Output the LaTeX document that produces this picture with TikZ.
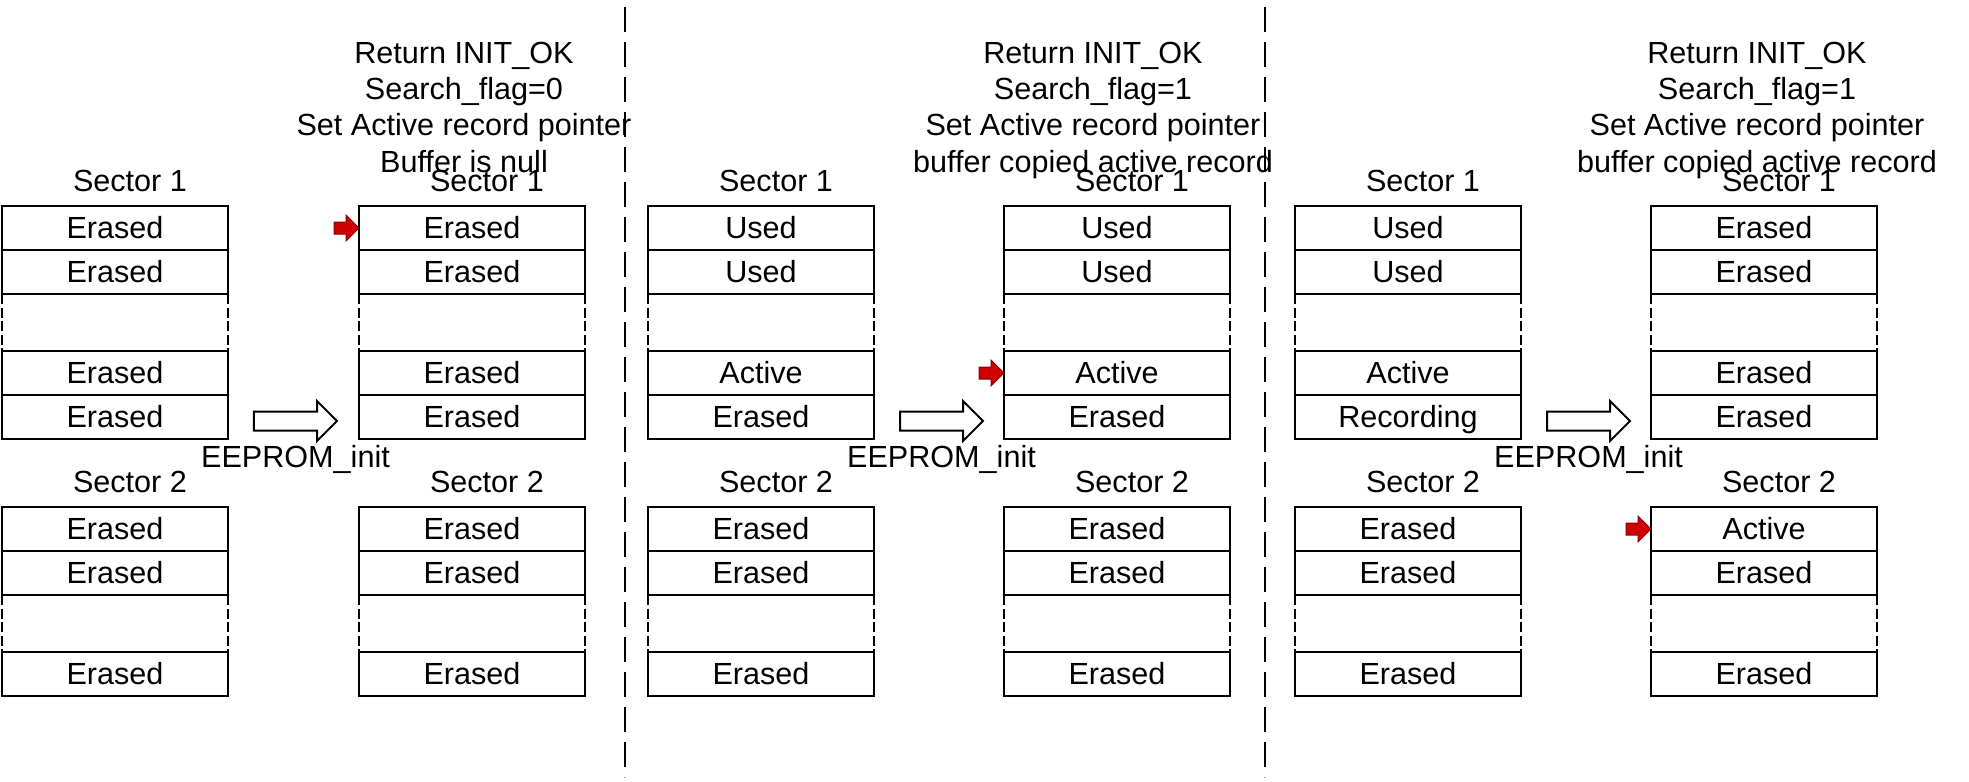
\documentclass[tikz,border=0pt]{standalone}
\usepackage{fontspec}
\setmainfont{Liberation Sans}
\usepackage{tikz}
\usetikzlibrary{calc, positioning}
\definecolor{ptrred}{RGB}{208,0,0}
\definecolor{ptrdark}{RGB}{140,0,0}

\tikzset{
  every node/.style={font=\fontsize{8.7}{10.35}\selectfont},
  cell/.style={draw, line width=0.28mm, minimum width=22.6mm, minimum height=4.4mm, inner sep=0pt, outer sep=0pt, text height=6.2pt, text depth=0pt},
  gapcell/.style={minimum width=22.6mm, minimum height=5.7mm, inner sep=0pt, outer sep=0pt},
  gapside/.style={line width=0.28mm, dash pattern=on 1mm off 0.35mm},
  seclabel/.style={anchor=base, inner sep=0pt, xshift=1.5mm},
  divider/.style={line width=0.28mm, dash pattern=on 2.5mm off 1mm},
  note/.style={align=center, anchor=north, inner sep=0pt},
  initlabel/.style={anchor=base, inner sep=0pt},
  redptr/.pic={
    \filldraw[fill=ptrred, draw=ptrdark, line width=0.1mm] (0,0) -- (-13,-13) -- (-13,-6) -- (-25,-6) -- (-25,6) -- (-13,6) -- (-13,13) -- cycle;
  },
  initarrow/.pic={
    \draw[line width=0.2mm, fill=white] (0,-9.5) -- (63,-9.5) -- (63,-20) -- (83,0) -- (63,20) -- (63,9.5) -- (0,9.5) -- cycle;
    \coordinate (-mid) at (41.5,0);
  },
}

\newcommand{\sectorfour}[7]{%
  \node[cell, anchor=north west] (#1-1) at (#2) {#4};
  \node[cell, below=0pt of #1-1] (#1-2) {#5};
  \node[gapcell, below=0pt of #1-2] (#1-g) {};
  \node[cell, below=0pt of #1-g] (#1-3) {#6};
  \node[cell, below=0pt of #1-3] (#1-4) {#7};
  \draw[gapside] (#1-g.north west) -- (#1-g.south west);
  \draw[gapside] (#1-g.north east) -- (#1-g.south east);
  \node[seclabel] (#1-lbl) at ([yshift=1.45mm]#1-1.north) {#3};
}
\newcommand{\sectorthree}[6]{%
  \node[cell, anchor=north west] (#1-1) at (#2) {#4};
  \node[cell, below=0pt of #1-1] (#1-2) {#5};
  \node[gapcell, below=0pt of #1-2] (#1-g) {};
  \node[cell, below=0pt of #1-g] (#1-3) {#6};
  \draw[gapside] (#1-g.north west) -- (#1-g.south west);
  \draw[gapside] (#1-g.north east) -- (#1-g.south east);
  \node[seclabel] (#1-lbl) at ([yshift=1.45mm]#1-1.north) {#3};
}

\begin{document}
\begin{tikzpicture}[x=0.1mm, y=-0.1mm]
\useasboundingbox (0,0) rectangle (1969,781);

% first case
\sectorfour{p1a}{2,206}{Sector 1}{Erased}{Erased}{Erased}{Erased}
\sectorthree{p1c}{2,507}{Sector 2}{Erased}{Erased}{Erased}
\sectorfour{p1b}{359,206}{Sector 1}{Erased}{Erased}{Erased}{Erased}
\sectorthree{p1d}{359,507}{Sector 2}{Erased}{Erased}{Erased}
\pic (p1arr) at ([xshift=2.6mm, yshift=-0.4mm]p1a-4.east) {initarrow};
\node[initlabel] (p1init) at ([yshift=-4.6mm]p1arr-mid) {EEPROM\_init};
\pic at (p1b-1.west) {redptr};
\node[note] (p1note) at (464,41) {Return INIT\_OK\\Search\_flag=0\\Set Active record pointer\\Buffer is null};

\draw[divider] (625,7) -- (625,777);

% second case
\sectorfour{p2a}{648,206}{Sector 1}{Used}{Used}{Active}{Erased}
\sectorthree{p2c}{648,507}{Sector 2}{Erased}{Erased}{Erased}
\sectorfour{p2b}{1004,206}{Sector 1}{Used}{Used}{Active}{Erased}
\sectorthree{p2d}{1004,507}{Sector 2}{Erased}{Erased}{Erased}
\pic (p2arr) at ([xshift=2.6mm, yshift=-0.4mm]p2a-4.east) {initarrow};
\node[initlabel] (p2init) at ([yshift=-4.6mm]p2arr-mid) {EEPROM\_init};
\pic at (p2b-3.west) {redptr};
\node[note] (p2note) at (1093,41) {Return INIT\_OK\\Search\_flag=1\\Set Active record pointer\\buffer copied active record};

\draw[divider] (1265,7) -- (1265,777);

% third case
\sectorfour{p3a}{1295,206}{Sector 1}{Used}{Used}{Active}{Recording}
\sectorthree{p3c}{1295,507}{Sector 2}{Erased}{Erased}{Erased}
\sectorfour{p3b}{1651,206}{Sector 1}{Erased}{Erased}{Erased}{Erased}
\sectorthree{p3d}{1651,507}{Sector 2}{Active}{Erased}{Erased}
\pic (p3arr) at ([xshift=2.6mm, yshift=-0.4mm]p3a-4.east) {initarrow};
\node[initlabel] (p3init) at ([yshift=-4.6mm]p3arr-mid) {EEPROM\_init};
\pic at (p3d-1.west) {redptr};
\node[note] (p3note) at (1757,41) {Return INIT\_OK\\Search\_flag=1\\Set Active record pointer\\buffer copied active record};
\end{tikzpicture}
\end{document}
